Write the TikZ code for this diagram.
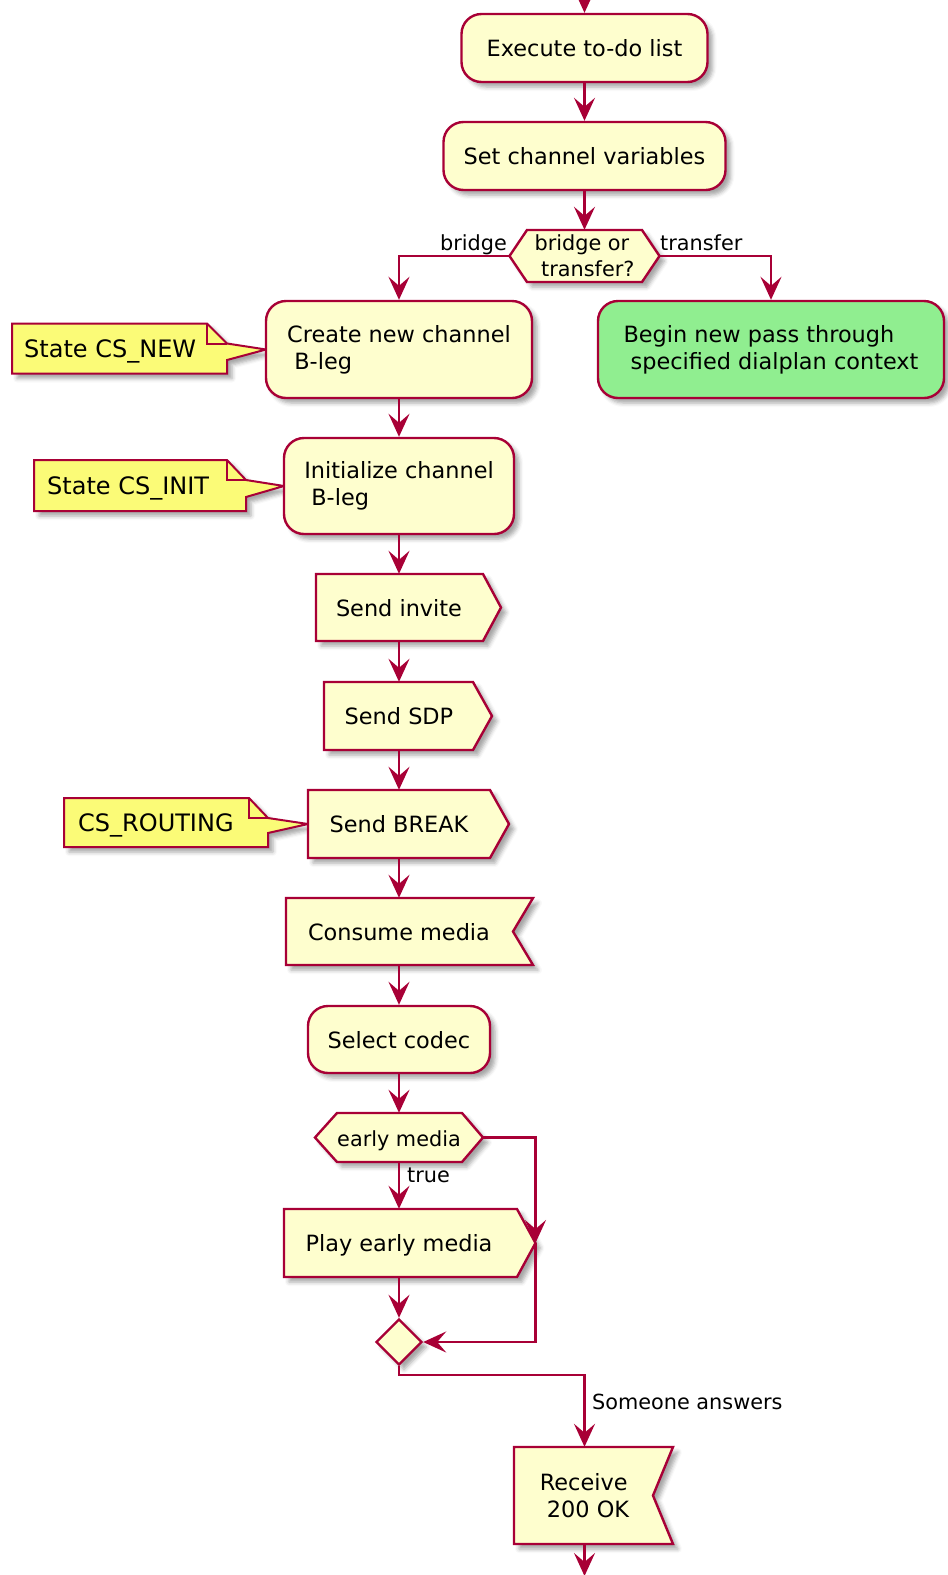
\documentclass[tikz,border=0pt]{standalone}
\usepackage{fontspec}
\setmainfont{DejaVu Sans}
\usetikzlibrary{arrows.meta,shapes.geometric,shadows.blur,calc}
\definecolor{boxfill}{HTML}{FEFECE}
\definecolor{boxline}{HTML}{A80036}
\definecolor{notefill}{HTML}{FBFB77}
\definecolor{greenfill}{HTML}{90EE90}
\newcommand\actfnt{\fontsize{22.4}{27.1}\selectfont}
\newcommand\lblfnt{\fontsize{20.8}{26}\selectfont}
\newcommand\notefnt{\fontsize{24}{29}\selectfont}
\tikzset{
  shd/.style={blur shadow={shadow xshift=5pt,shadow yshift=-5pt,shadow blur radius=4pt,shadow opacity=35}},
  act/.style={draw=boxline, fill=boxfill, line width=2.4pt, rounded corners=20pt, shd, font=\actfnt, align=left, inner sep=0pt},
  one/.style={text height=17pt, text depth=0pt},
  outline/.style={draw=boxline, fill=boxfill, line width=2.4pt, shd, line join=miter},
  notebg/.style={draw=boxline, fill=notefill, line width=2pt, shd, line join=miter},
  noteline/.style={draw=boxline, line width=2pt},
  ph/.style={inner sep=0pt, draw=none, font=\actfnt, align=left},
  hextxt/.style={inner sep=0pt, draw=none, font=\lblfnt, align=left},
  notetxt/.style={inner sep=0pt, font=\notefnt, text height=17.5pt, text depth=0pt, anchor=west},
  flow/.style={draw=boxline, line width=2.3pt, -{Stealth[length=23pt,width=21pt,inset=9pt]}},
  lbl/.style={font=\lblfnt, inner sep=0pt},
}
\begin{document}
\begin{tikzpicture}[x=1pt,y=-1pt]
\useasboundingbox (0,0) rectangle (948,1575);

% ---- special outlines (drawn first, behind the text nodes)
% bridge or transfer hexagon
\path[outline] (509.5,256) -- (527,230) -- (642,230) -- (659.5,256) -- (642,282) -- (527,282) -- cycle;
% notes
\path[notebg] (12,323.5) -- (207,323.5) -- (227,343.5) -- (266,349.5) -- (227,360) -- (227,373.5) -- (12,373.5) -- cycle;
\draw[noteline] (207,323.5) -- (207,343.5) -- (227,343.5);
\path[notebg] (34,460) -- (227,460) -- (246,480) -- (284,486) -- (246,497) -- (246,511) -- (34,511) -- cycle;
\draw[noteline] (227,460) -- (227,480) -- (246,480);
\path[notebg] (64,798) -- (249,798) -- (268,818) -- (308,824) -- (268,833) -- (268,847) -- (64,847) -- cycle;
\draw[noteline] (249,798) -- (249,818) -- (268,818);
% send shapes
\path[outline] (316,574) -- (483,574) -- (501,607.5) -- (483,641) -- (316,641) -- cycle;
\path[outline] (324,682) -- (473,682) -- (492,716) -- (473,750) -- (324,750) -- cycle;
\path[outline] (308,790) -- (490,790) -- (509,824) -- (490,858) -- (308,858) -- cycle;
% receive shapes
\path[outline] (286,898) -- (533,898) -- (513,931.5) -- (533,965) -- (286,965) -- cycle;
\path[outline] (514,1447) -- (673,1447) -- (653,1495.5) -- (673,1544) -- (514,1544) -- cycle;
% early media hexagon
\path[outline] (315,1137.5) -- (337,1113) -- (462,1113) -- (483,1137.5) -- (462,1162) -- (337,1162) -- cycle;
% play early media
\path[outline] (284,1209) -- (517,1209) -- (535.5,1243) -- (517,1277) -- (284,1277) -- cycle;

% ---- nodes
\node[act, one, minimum width=246pt, minimum height=68pt] (exec) at (584.5,48) {Execute to-do list};
\node[act, one, minimum width=282pt, minimum height=68pt] (setv) at (584.5,156) {Set channel variables};
\node[hextxt, minimum width=150pt, minimum height=52pt] (q1) at (584.5,256) {bridge or\\\mbox{\ }transfer?};
\node[act, minimum width=266pt, minimum height=97pt] (create) at (399,349.5) {Create new channel\\\mbox{\ }B-leg};
\node[act, fill=greenfill, minimum width=346pt, minimum height=97pt] (pass) at (771,349.5) {Begin new pass through\\\mbox{\ }specified dialplan context};
\node[act, minimum width=230pt, minimum height=96pt] (init) at (399,486) {Initialize channel\\\mbox{\ }B-leg};
\node[ph, one, minimum height=67pt] (inv) at (399,607.5) {Send invite};
\node[ph, one, minimum height=68pt] (sdp) at (399,716) {Send SDP};
\node[ph, one, minimum height=68pt] (brk) at (399,824) {Send BREAK};
\node[ph, one, minimum height=67pt] (cons) at (399,931.5) {Consume media};
\node[act, one, minimum width=182pt, minimum height=67pt] (codec) at (399,1039.5) {Select codec};
\node[hextxt, one, minimum width=168pt, minimum height=49pt] (q2) at (399,1137.5) {early media};
\node[ph, one, minimum height=68pt] (play) at (399,1243) {Play early media};
\node[draw=boxline, fill=boxfill, line width=2.4pt, shd, shape=diamond, minimum width=46pt, minimum height=46pt, inner sep=0pt] (merge) at (399,1342) {};
\node[ph, minimum height=97pt] (recv) at (584.5,1495.5) {Receive\\\mbox{\ }200 OK};

\node[notetxt] (n1) at (24,348.5) {State CS\_NEW};
\node[notetxt] (n2) at (47,485.5) {State CS\_INIT};
\node[notetxt] (n3) at (78,823) {CS\_ROUTING};

% ---- connectors
\coordinate (top) at (584.5,-12);
\coordinate (lc) at (535.5,1243);
\coordinate (ans) at (584.5,1375);
\coordinate (bot) at (584.5,1576);

\draw[flow] (top) -- (exec.north);
\draw[flow] (exec) -- (setv);
\draw[flow] (setv) -- (q1);
\draw[flow] (q1.west) -| (create.north);
\draw[flow] (q1.east) -| (pass.north);
\draw[flow] (create) -- (init);
\draw[flow] (init) -- (inv);
\draw[flow] (inv) -- (sdp);
\draw[flow] (sdp) -- (brk);
\draw[flow] (brk) -- (cons);
\draw[flow] (cons) -- (codec);
\draw[flow] (codec) -- (q2);
\draw[flow] (q2) -- (play);
\draw[flow] (q2.east) -| (lc);
\draw[flow] (lc) |- (merge.east);
\draw[flow] (play) -- (merge);
\draw[flow] (merge.south) |- (ans) -- (recv.north);
\draw[flow] (recv) -- (bot);

% ---- labels
\node[lbl, anchor=base east] (lb1) at (507,250) {bridge};
\node[lbl, anchor=base west] (lb2) at (660,250) {transfer};
\node[lbl, anchor=base west] (lb3) at (407,1182) {true};
\node[lbl, anchor=base west] (lb4) at (592,1409) {Someone answers};
\end{tikzpicture}
\end{document}
